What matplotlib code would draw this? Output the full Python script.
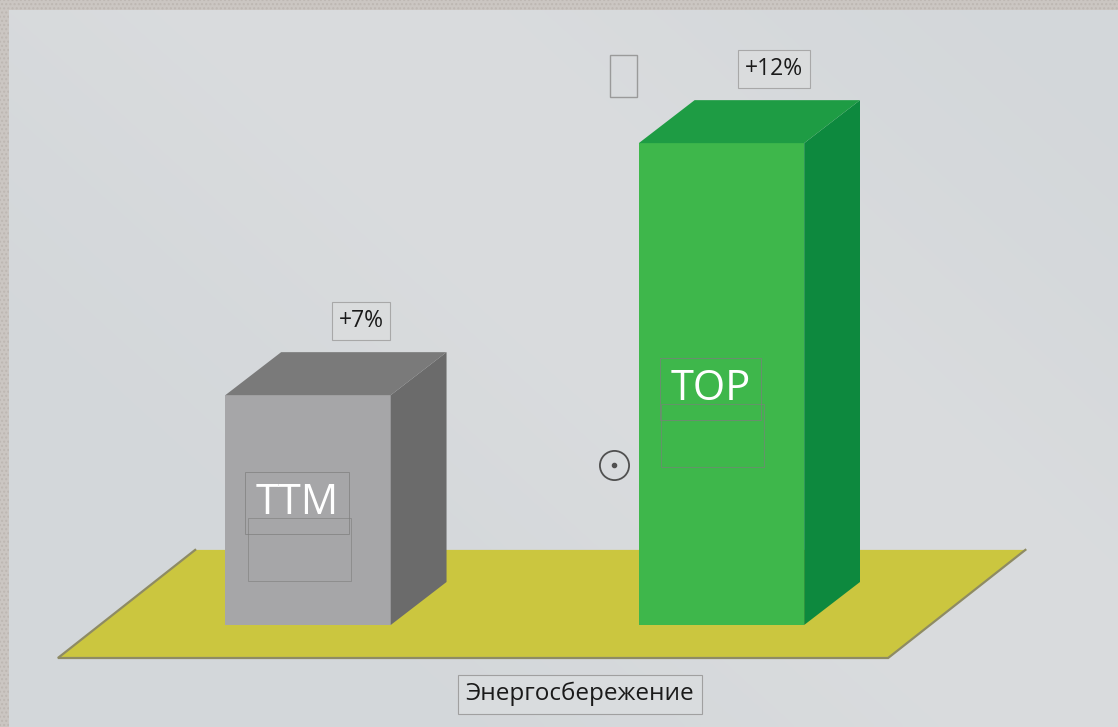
import matplotlib
matplotlib.use("Agg")
import matplotlib.pyplot as plt
from matplotlib.patches import Polygon, Rectangle
import numpy as np

# ---- data ----
categories = ["TTM", "TOP"]
values = [7, 12]
value_labels = ["+7%", "+12%"]
axis_label = "Энергосбережение"

# ---- style ----
front_colors = ["#a6a6a8", "#3eb74b"]
top_colors = ["#7a7a7a", "#1e9c44"]
side_colors = ["#6b6b6b", "#0d893e"]
floor_color = "#cbc63f"

FONT = ["Open Sans", "DejaVu Sans"]

W, H = 1118, 727
fig = plt.figure(figsize=(W / 100, H / 100), dpi=100)
fig.patch.set_facecolor("#d5d9dc")
ax = fig.add_axes([0, 0, 1, 1])
xlim = (-0.745, 1.959)
ylim = (0.416, 14.84)
ax.set_xlim(*xlim)
ax.set_ylim(*ylim)
ax.set_axis_off()

# background gradient (subtle)
gy, gx = np.mgrid[0:1:200j, 0:1:300j]
band = np.exp(-((gx * 0.7 + (1 - gy) * 0.5 - 0.7) ** 2) / 0.08)
bg = np.empty(gx.shape + (3,))
base_col = np.array([0xd3, 0xd7, 0xda]) / 255.0
light_col = np.array([0xda, 0xdc, 0xde]) / 255.0
for c in range(3):
    bg[..., c] = base_col[c] + (light_col[c] - base_col[c]) * band
ax.imshow(bg, extent=(xlim[0], xlim[1], ylim[0], ylim[1]), aspect="auto",
          origin="upper", zorder=0, interpolation="bicubic")

# geometry
x = np.arange(len(categories))
width = 0.4
base = 2.44
dx, dy = 0.135, 0.853

# floor
fl = [(-0.605, base - 0.655), (1.403, base - 0.655),
      (1.735, base + 1.49), (-0.273, base + 1.49)]
ax.add_patch(Polygon(fl, closed=True, facecolor=floor_color,
                     edgecolor="none", zorder=1))
ax.plot([fl[3][0], fl[0][0], fl[1][0], fl[2][0]],
        [fl[3][1], fl[0][1], fl[1][1], fl[2][1]],
        color="#8e8b64", lw=1.6, zorder=1.5, solid_joinstyle="miter")

# bars (front faces)
heights = [v - base for v in values]
ax.bar(x, heights, bottom=base, width=width, color=front_colors, zorder=3,
       linewidth=0)

for xi, v, tc, sc in zip(x, values, top_colors, side_colors):
    l, r = xi - width / 2, xi + width / 2
    top = Polygon([(l, v), (r, v), (r + dx, v + dy), (l + dx, v + dy)],
                  closed=True, facecolor=tc, edgecolor="none", zorder=3)
    side = Polygon([(r, base), (r + dx, base + dy), (r + dx, v + dy), (r, v)],
                   closed=True, facecolor=sc, edgecolor="none", zorder=3)
    ax.add_patch(side)
    ax.add_patch(top)

# value labels above bars
for xi, v, lab in zip(x, values, value_labels):
    ax.text(xi + 0.128, v + dy + 0.62, lab, ha="center", va="center",
            fontsize=16.5, family=FONT, color="#1a1a1a", zorder=5,
            bbox=dict(boxstyle="square,pad=0.3", fc="#dadcdd",
                      ec="#a8a8a8", lw=0.8))

# category labels inside bars
for xi, v, cat in zip(x, values, categories):
    ym = base + 0.36 + 0.452 * (v - base)
    xt = xi - 0.026
    ax.text(xt, ym, cat, ha="center", va="center", fontsize=30,
            family=FONT, color="white", zorder=5,
            bbox=dict(boxstyle="square,pad=0.25", fc="none",
                      ec="#7d7d7d", lw=0.7, alpha=0.7))
    ax.add_patch(Rectangle((xt - 0.12, ym - 1.55), 0.25, 1.25,
                           fill=False, ec="#7d7d7d", lw=0.7, alpha=0.6,
                           zorder=4))

# small empty placeholder box and circle marker
ax.add_patch(Rectangle((0.763 - 0.032, 13.33 - 0.41), 0.064, 0.83,
                       fill=False, ec="#9a9a9a", lw=1.0, zorder=4))
ax.plot([0.740], [5.61], marker="o", ms=21, mfc="none", mec="#505050",
        mew=1.3, zorder=5)
ax.plot([0.740], [5.61], marker="o", ms=3, color="#505050", zorder=5)

# axis label
ax.text(0.658, 1.07, axis_label, ha="center", va="center", fontsize=17.5,
        family=FONT, color="#1a1a1a", zorder=5,
        bbox=dict(boxstyle="square,pad=0.3", fc="#d9dcde", ec="#a0a0a0",
                  lw=0.8))

# textured frame strips (top and left)
fig.patches.append(Rectangle((0, 1 - 10 / H), 1, 10 / H,
                             transform=fig.transFigure, facecolor="#cbc6c2",
                             edgecolor="#bdb7b2", hatch="....", lw=0,
                             zorder=10))
fig.patches.append(Rectangle((0, 0), 9 / W, 1, transform=fig.transFigure,
                             facecolor="#cbc6c2", edgecolor="#bdb7b2",
                             hatch="....", lw=0, zorder=10))

fig.savefig("out.png", dpi=100, facecolor=fig.get_facecolor())
